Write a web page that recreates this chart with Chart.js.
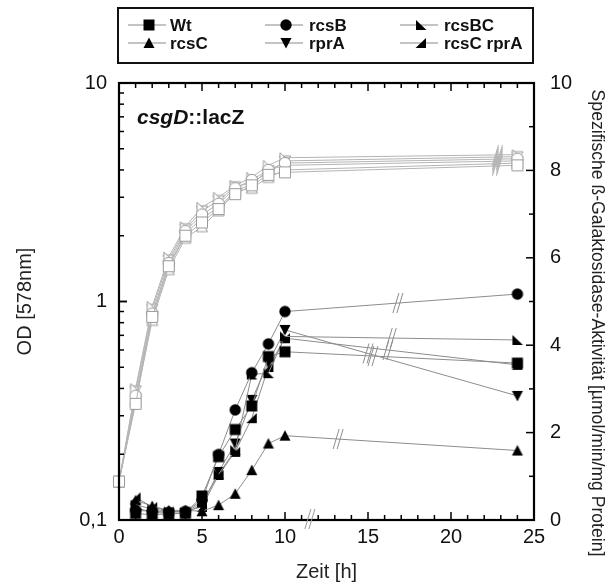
<!DOCTYPE html>
<html><head><meta charset="utf-8">
<script src="https://cdn.jsdelivr.net/npm/chart.js@4.4.1/dist/chart.umd.min.js"></script>
<style>html,body{margin:0;padding:0;background:#fff;}#wrap{position:relative;width:611px;height:588px;}</style>
</head><body><div id="wrap"><canvas id="c" width="611" height="588"></canvas></div>
<script>
// ---------- data ----------
const times = [0, 1, 2, 3, 4, 5, 6, 7, 8, 9, 10, 24];
const seriesNames = ['Wt', 'rcsB', 'rcsBC', 'rcsC', 'rprA', 'rcsC rprA'];
const markerShapes = ['square', 'circle', 'triBL', 'triUp', 'triDown', 'triBR'];

// growth, OD [578nm] (left, log axis)
const odWt       = [0.15, 0.34, 0.85, 1.45, 2.00, 2.30, 2.65, 3.10, 3.40, 3.80, 3.90, 4.20];
const odRcsB     = [0.15, 0.37, 0.88, 1.50, 2.10, 2.50, 2.80, 3.30, 3.60, 4.00, 4.30, 4.50];
const odRcsBC    = [0.15, 0.40, 0.95, 1.60, 2.20, 2.70, 3.00, 3.40, 3.70, 4.20, 4.55, 4.70];
const odRcsC     = [0.15, 0.35, 0.82, 1.40, 1.95, 2.20, 2.60, 3.20, 3.30, 3.70, 4.00, 4.30];
const odRprA     = [0.15, 0.39, 0.92, 1.55, 2.15, 2.60, 2.90, 3.35, 3.50, 3.90, 4.40, 4.60];
const odRcsCRprA = [0.15, 0.36, 0.86, 1.45, 2.05, 2.40, 2.70, 3.20, 3.45, 4.00, 4.20, 4.40];

// specific beta-galactosidase activity (right axis)
const actWt       = [null, 0.15, 0.12, 0.14, 0.15, 0.55, 1.45, 2.07, 2.61, 3.74, 3.85, 3.59];
const actRcsB     = [null, 0.22, 0.20, 0.18, 0.20, 0.45, 1.50, 2.52, 3.37, 4.03, 4.77, 5.17];
const actRcsBC    = [null, 0.35, 0.25, 0.20, 0.18, 0.40, 1.05, 1.60, 3.33, 3.36, 4.20, 4.12];
const actRcsC     = [null, 0.45, 0.32, 0.22, 0.22, 0.20, 0.34, 0.60, 1.14, 1.75, 1.93, 1.59];
const actRprA     = [null, 0.28, 0.18, 0.15, 0.16, 0.35, 1.10, 1.75, 2.75, 3.60, 4.35, 2.84];
const actRcsCRprA = [null, 0.52, 0.30, 0.20, 0.20, 0.30, 1.03, 1.56, 2.33, 3.50, 4.16, 3.55];

const odSeries  = [odWt, odRcsB, odRcsBC, odRcsC, odRprA, odRcsCRprA];
const actSeries = [actWt, actRcsB, actRcsBC, actRcsC, actRprA, actRcsCRprA];

const yLeftTicks  = [0.1, 1, 10];
const yLeftLabels = ['0,1', '1', '10'];
const xTickStep = 5;
const yRightStep = 2;
const breakAtAct = [15.3, 16.8, 16.4, 13.2, 15.0, 16.2];
const breakAtOD = 22.8;
const axisBreakAt = 11.5;

// ---------- markers ----------
function makeMarker(shape, filled) {
  const s = 12, c = document.createElement('canvas');
  c.width = s + 2; c.height = s + 2;
  const g = c.getContext('2d'), o = 1;
  g.beginPath();
  switch (shape) {
    case 'square': g.rect(o + 0.5, o + 0.5, s - 1, s - 1); break;
    case 'circle': g.arc(o + s / 2, o + s / 2, s / 2 - 0.3, 0, Math.PI * 2); break;
    case 'triUp': g.moveTo(o + s / 2, o + 0.5); g.lineTo(o + s - 0.5, o + s - 1); g.lineTo(o + 0.5, o + s - 1); break;
    case 'triDown': g.moveTo(o + 0.5, o + 1); g.lineTo(o + s - 0.5, o + 1); g.lineTo(o + s / 2, o + s - 0.5); break;
    case 'triBL': g.moveTo(o + 1, o + 1); g.lineTo(o + s - 0.5, o + s - 1); g.lineTo(o + 1, o + s - 1); break;
    case 'triBR': g.moveTo(o + s - 1, o + 1); g.lineTo(o + s - 1, o + s - 1); g.lineTo(o + 0.5, o + s - 1); break;
  }
  g.closePath();
  if (filled) { g.fillStyle = '#000'; g.fill(); }
  else { g.fillStyle = '#fff'; g.fill(); g.strokeStyle = '#9a9a9a'; g.lineWidth = 1; g.stroke(); }
  return c;
}
const filledMarkers = markerShapes.map(s => makeMarker(s, true));
const openMarkers = markerShapes.map(s => makeMarker(s, false));

function pts(vals) {
  const out = [];
  vals.forEach((v, i) => { if (v !== null) out.push({x: times[i], y: v}); });
  return out;
}

const datasets = [];
seriesNames.forEach((n, i) => {
  datasets.push({
    label: n + ' OD', data: pts(odSeries[i]), yAxisID: 'y', xAxisID: 'x',
    borderColor: '#b4b4b4', borderWidth: 1, pointStyle: openMarkers[i], pointRadius: 6,
    tension: 0, clip: false, breakAt: breakAtOD, breakColor: '#b4b4b4'
  });
});
seriesNames.forEach((n, i) => {
  datasets.push({
    label: n, data: pts(actSeries[i]), yAxisID: 'y2', xAxisID: 'x',
    borderColor: '#8c8c8c', borderWidth: 1, pointStyle: filledMarkers[i], pointRadius: 6,
    tension: 0, clip: false, breakAt: breakAtAct[i], breakColor: '#8c8c8c'
  });
});

const FONT = '"Liberation Sans", Arial, sans-serif';

const decor = {
  id: 'decor',
  afterDatasetsDraw(chart) {
    const ctx = chart.ctx, xs = chart.scales.x;
    chart.data.datasets.forEach((ds, di) => {
      const meta = chart.getDatasetMeta(di);
      const n = meta.data.length;
      if (n < 2) return;
      const p1 = meta.data[n - 2], p2 = meta.data[n - 1];
      const bx = xs.getPixelForValue(ds.breakAt);
      const f = (bx - p1.x) / (p2.x - p1.x);
      const by = p1.y + f * (p2.y - p1.y);
      ctx.save();
      ctx.strokeStyle = ds.breakColor; ctx.lineWidth = 1;
      [-2, 2].forEach(d => {
        ctx.beginPath(); ctx.moveTo(bx + d - 3, by + 10); ctx.lineTo(bx + d + 3, by - 10); ctx.stroke();
      });
      ctx.restore();
    });
  },
  afterDraw(chart) {
    const ctx = chart.ctx, a = chart.chartArea;
    const xs = chart.scales.x, yl = chart.scales.y, yr = chart.scales.y2;
    ctx.save();
    ctx.strokeStyle = '#000';
    ctx.lineWidth = 1.5;
    const line = (x1, y1, x2, y2) => { ctx.beginPath(); ctx.moveTo(x1, y1); ctx.lineTo(x2, y2); ctx.stroke(); };
    for (let t = 0; t <= 25; t++) {
      const px = xs.getPixelForValue(t), len = t % 5 === 0 ? 8 : 5;
      line(px, a.bottom, px, a.bottom - len);
      line(px, a.top, px, a.top + len);
    }
    [0.1, 1].forEach(dec => {
      for (let k = 1; k <= 10; k++) {
        const v = dec * k, py = yl.getPixelForValue(v), len = (k === 1 || k === 10) ? 8 : 5;
        line(a.left, py, a.left + len, py);
      }
    });
    for (let v = 0; v <= 10; v++) {
      const py = yr.getPixelForValue(v), len = v % 2 === 0 ? 8 : 5;
      line(a.right, py, a.right - len, py);
    }
    ctx.lineWidth = 2.2;
    ctx.strokeRect(a.left, a.top, a.right - a.left, a.bottom - a.top);
    ctx.strokeStyle = '#999'; ctx.lineWidth = 1;
    const bx = xs.getPixelForValue(axisBreakAt);
    [-2, 2].forEach(d => line(bx + d - 3, a.bottom + 9, bx + d + 3, a.bottom - 11));
    ctx.fillStyle = '#111'; ctx.textBaseline = 'alphabetic'; ctx.textAlign = 'left';
    ctx.font = 'italic bold 21px ' + FONT;
    ctx.fillText('csgD', 137, 124);
    const w = ctx.measureText('csgD').width;
    ctx.font = 'bold 21px ' + FONT;
    ctx.fillText('::lacZ', 137 + w, 124);
    ctx.save();
    ctx.translate(597, 323); ctx.rotate(Math.PI / 2);
    ctx.font = '17.6px ' + FONT; ctx.textAlign = 'center'; ctx.textBaseline = 'middle';
    ctx.fillStyle = '#222';
    ctx.fillText('Spezifische ß-Galaktosidase-Aktivität [µmol/min/mg Protein]', 0, 0);
    ctx.restore();
    ctx.strokeStyle = '#111'; ctx.lineWidth = 2;
    ctx.strokeRect(118, 8, 415, 55);
    const colLine = [128, 265, 400], colText = [170, 309, 444], rowY = [25, 43];
    seriesNames.forEach((n, i) => {
      const c = i % 3, r = Math.floor(i / 3), y = rowY[r];
      ctx.strokeStyle = '#b0b0b0'; ctx.lineWidth = 1.5;
      line(colLine[c], y, colLine[c] + 38, y);
      const m = filledMarkers[i];
      ctx.drawImage(m, colLine[c] + 21 - m.width / 2, y - m.height / 2);
      ctx.fillStyle = '#111'; ctx.font = 'bold 17px ' + FONT;
      ctx.textAlign = 'left'; ctx.textBaseline = 'middle';
      ctx.fillText(n, colText[c], y + 1);
    });
    ctx.restore();
  }
};

new Chart(document.getElementById('c'), {
  type: 'line',
  data: { datasets },
  plugins: [decor],
  options: {
    responsive: false, animation: false, devicePixelRatio: 1,
    layout: { padding: { top: 83, left: 0, right: 0, bottom: 0 } },
    plugins: { legend: { display: false }, tooltip: { enabled: false } },
    scales: {
      x: {
        type: 'linear', position: 'bottom', min: 0, max: 25,
        grid: { display: false, drawTicks: false }, border: { display: false },
        ticks: { stepSize: xTickStep, padding: 5, color: '#111', font: { family: FONT, size: 20 } },
        title: { display: true, text: 'Zeit [h]', color: '#222', font: { family: FONT, size: 20 }, padding: { top: 0, bottom: 4 } },
        afterFit: s => { s.height = 68; }
      },
      y: {
        type: 'logarithmic', position: 'left', min: 0.1, max: 10,
        grid: { display: false, drawTicks: false }, border: { display: false },
        afterBuildTicks: s => { s.ticks = yLeftTicks.map(v => ({ value: v, major: true })); },
        ticks: { padding: 12, color: '#111', font: { family: FONT, size: 20 },
          callback: v => { const i = yLeftTicks.indexOf(v); return i >= 0 ? yLeftLabels[i] : ''; } },
        title: { display: true, text: 'OD [578nm]', color: '#222', font: { family: FONT, size: 20 }, padding: { top: 13, bottom: 0 } },
        afterFit: s => { s.width = 119; }
      },
      y2: {
        type: 'linear', position: 'right', min: 0, max: 10,
        grid: { display: false, drawTicks: false }, border: { display: false },
        ticks: { stepSize: yRightStep, padding: 16, color: '#111', font: { family: FONT, size: 20 } },
        title: { display: false },
        afterFit: s => { s.width = 77; }
      }
    }
  }
});
</script></body></html>
